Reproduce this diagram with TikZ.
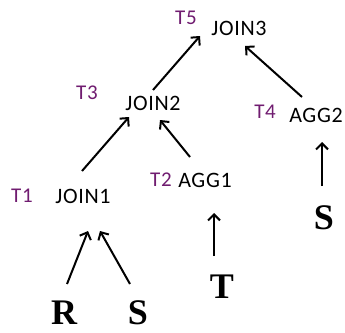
\documentclass[tikz,border=0pt]{standalone}
\usepackage{fontspec}
\setmainfont{Carlito}
\newfontfamily\opfont[LetterSpace=3]{Carlito}
\newfontfamily\relfont{Liberation Serif}
\usetikzlibrary{arrows.meta}
\definecolor{tpurple}{RGB}{112,28,112}
\tikzset{
  op/.style={inner sep=0pt, font=\opfont\fontsize{22}{22}\selectfont, text=black},
  tlabel/.style={inner sep=0pt, font=\opfont\fontsize{21}{21}\selectfont, text=tpurple},
  rel/.style={inner sep=0pt, font=\relfont\bfseries\fontsize{36}{36}\selectfont},
  arr/.style={line width=2pt, -{Straight Barb[length=6pt,width=12pt,line width=2pt]}}
}
\begin{document}
\begin{tikzpicture}[x=1pt,y=-1pt]
\useasboundingbox (0,0) rectangle (345,332);
\node[op] (join3) at (239,28) {JOIN3};
\node[tlabel] (t5) at (186,18) {T5};
\node[op] (join2) at (153,103) {JOIN2};
\node[tlabel] (t3) at (87,93) {T3};
\node[op] (agg2) at (316,115) {AGG2};
\node[tlabel] (t4) at (265,112) {T4};
\node[op] (join1) at (83,196) {JOIN1};
\node[tlabel] (t1) at (22,196) {T1};
\node[op] (agg1) at (205,180) {AGG1};
\node[tlabel] (t2) at (161,180) {T2};
\node[rel] (r) at (64,313) {R};
\node[rel] (s1) at (138,313) {S};
\node[rel] (t) at (222,287) {T};
\node[rel] (s2) at (324,218) {S};
\coordinate (a1s) at (153,90); \coordinate (a1e) at (200,36);
\coordinate (a2s) at (302,97); \coordinate (a2e) at (245,46);
\coordinate (a3s) at (82,171); \coordinate (a3e) at (129,117);
\coordinate (a4s) at (190,157); \coordinate (a4e) at (160,120);
\coordinate (a5s) at (322,186); \coordinate (a5e) at (322,142);
\coordinate (a6s) at (214,256); \coordinate (a6e) at (214,213);
\coordinate (a7s) at (67,284); \coordinate (a7e) at (88,231);
\coordinate (a8s) at (130,284); \coordinate (a8e) at (100,231);
\draw[arr] (a1s) -- (a1e);
\draw[arr] (a2s) -- (a2e);
\draw[arr] (a3s) -- (a3e);
\draw[arr] (a4s) -- (a4e);
\draw[arr] (a5s) -- (a5e);
\draw[arr] (a6s) -- (a6e);
\draw[arr] (a7s) -- (a7e);
\draw[arr] (a8s) -- (a8e);
\end{tikzpicture}
\end{document}
